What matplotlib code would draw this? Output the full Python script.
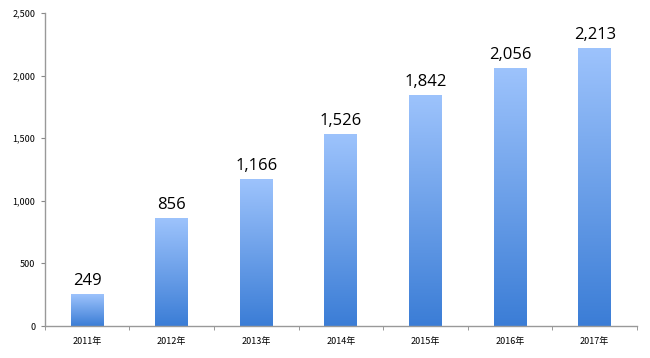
import matplotlib
matplotlib.use("Agg")
import matplotlib.pyplot as plt
import numpy as np
from matplotlib.colors import LinearSegmentedColormap

plt.rcParams['font.family'] = ['Noto Sans CJK JP', 'DejaVu Sans']

categories = ["2011年", "2012年", "2013年", "2014年", "2015年", "2016年", "2017年"]
values = [249, 856, 1166, 1526, 1842, 2056, 2213]
yticks = [0, 500, 1000, 1500, 2000, 2500]
ytick_labels = ["0", "500", "1,000", "1,500", "2,000", "2,500"]

fig = plt.figure(figsize=(6.5, 3.58), dpi=100)
ax = fig.add_axes([0.069, 0.089, 0.911, 0.875])

x = np.arange(len(categories))
bars = ax.bar(x, values, width=0.39, color='none', edgecolor='none', zorder=2)

cmap = LinearSegmentedColormap.from_list('g', ['#3b7dd6', '#9dc3fc'])
grad = np.linspace(0, 1, 256).reshape(-1, 1)
for b in bars:
    x0, w, h = b.get_x(), b.get_width(), b.get_height()
    ax.imshow(grad, cmap=cmap, aspect='auto', origin='lower',
              extent=[x0, x0 + w, 0, h], zorder=2)

for xi, v in zip(x, values):
    ax.text(xi, v + 45, f"{v:,}", ha='center', va='bottom', fontsize=12,
            family=['Open Sans', 'DejaVu Sans'], color='black')

ax.set_xlim(-0.5, len(categories) - 0.5)
ax.set_ylim(0, 2500)
ax.set_yticks(yticks)
ax.set_yticklabels(ytick_labels, fontsize=6.5)
ax.set_xticks(x)
ax.set_xticklabels(categories, fontsize=6.5)
ax.set_xticks(np.arange(-0.5, len(categories) + 0.5, 1), minor=True)
ax.tick_params(axis='x', which='major', length=0, pad=8)
ax.tick_params(axis='x', which='minor', length=3, color='#888888', direction='out')
ax.tick_params(axis='y', length=3, color='#888888', pad=4)

for s in ['top', 'right']:
    ax.spines[s].set_visible(False)
for s in ['left', 'bottom']:
    ax.spines[s].set_color('#999999')
    ax.spines[s].set_linewidth(1.0)

fig.savefig('out.png', dpi=100)
